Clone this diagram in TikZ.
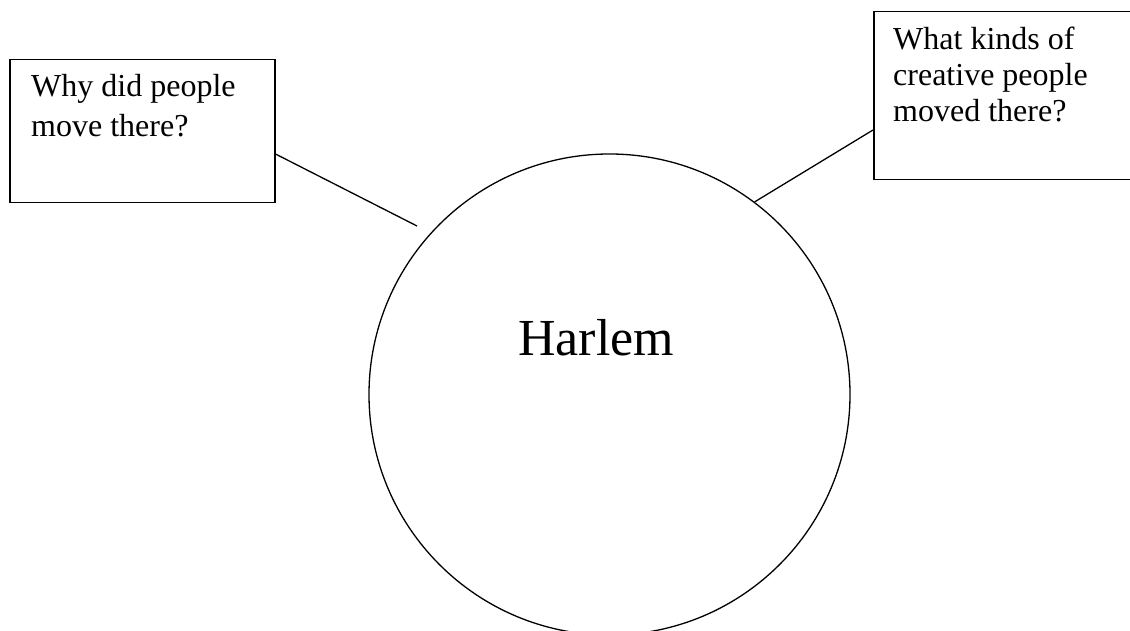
\documentclass[tikz,border=0pt]{standalone}
\usepackage{fontspec}
\setmainfont{Liberation Serif}
\begin{document}
\begin{tikzpicture}[x=1pt,y=-1pt,
  qbox/.style={draw=black, line width=1.5pt, rectangle, inner sep=0pt, anchor=north west},
  qtext/.style={inner sep=0pt, anchor=north west, align=left},
  link/.style={draw=black, line width=1.3pt}]
\useasboundingbox (0,0) rectangle (1130,631);
\fill[white] (0,0) rectangle (1130,631);
\clip (0,0) rectangle (1130,631);
% circle
\node[draw=black, line width=1.3pt, circle, minimum size=481pt, inner sep=0pt] (c) at (609.5,394.5) {};
\node[anchor=base west, inner sep=0pt, font=\fontsize{52}{60}\selectfont] (harlem) at (518,355) {Harlem};
% left box
\node[qbox, minimum width=265pt, minimum height=143pt] (lb) at (9,59) {};
\node[qtext, font=\fontsize{32}{40}\selectfont] (lt) at (31,74) {Why did people\\move there?};
% right box
\node[qbox, minimum width=300pt, minimum height=168pt] (rb) at (873,11) {};
\node[qtext, font=\fontsize{32}{36}\selectfont] (rt) at (893,27) {What kinds of\\creative people\\moved there?};
% connectors
\coordinate (lend) at (417,226);
\draw[link] (lb.east |- 0,154) -- (lend);
\draw[link] (c.53.3) -- (rb.west |- 0,130);
\end{tikzpicture}
\end{document}
